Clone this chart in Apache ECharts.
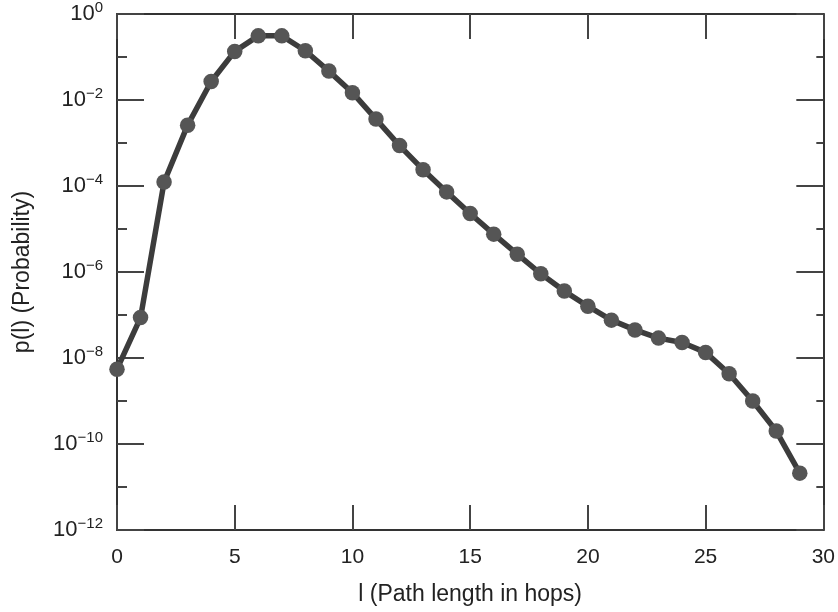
<!DOCTYPE html>
<html>
<head>
<meta charset="utf-8">
<script src="https://cdn.jsdelivr.net/npm/echarts@6/dist/echarts.min.js"></script>
<style>html,body{margin:0;padding:0;background:#fff;}#c{width:838px;height:612px;}</style>
</head>
<body>
<div id="c"></div>
<script>
const hops = [0,1,2,3,4,5,6,7,8,9,10,11,12,13,14,15,16,17,18,19,20,21,22,23,24,25,26,27,28,29];
const probability = [5.5e-9, 8.7e-8, 1.24e-4, 2.6e-3, 2.7e-2, 0.135, 0.31, 0.31, 0.14, 4.7e-2,
  1.48e-2, 3.6e-3, 8.7e-4, 2.4e-4, 7.3e-5, 2.3e-5, 7.6e-6, 2.6e-6, 9.1e-7, 3.6e-7,
  1.6e-7, 7.6e-8, 4.5e-8, 2.9e-8, 2.3e-8, 1.35e-8, 4.3e-9, 1.0e-9, 2.0e-10, 2.1e-11];
const xTicks = [0,5,10,15,20,25,30];
const yMin = 1e-12, yMax = 1;
const xName = 'l (Path length in hops)';
const yName = 'p(l) (Probability)';

const font = 'Liberation Sans';
const axisColor = '#333';
const chart = echarts.init(document.getElementById('c'));
const supLabel = v => {
  const e = Math.round(Math.log10(v));
  return '{b|10}{s|' + (e < 0 ? '\u2212' + (-e) : e) + '}';
};
const baseX = {
  type: 'value', min: xTicks[0], max: xTicks[xTicks.length-1], interval: xTicks[1]-xTicks[0],
  splitLine: {show:false},
  axisLine: {show:true, onZero:false, lineStyle:{color:axisColor, width:2}},
  axisTick: {show:true, inside:true, length:25, lineStyle:{color:'#444', width:2}}
};
const baseY = (pos, interval, len, labels, line) => ({
  type: 'log', logBase: 10, min: yMin, max: yMax, interval: interval, position: pos,
  splitLine: {show:false},
  axisLine: {show: line, onZero:false, lineStyle:{color:axisColor, width:2}},
  axisTick: {show:true, inside:true, length:len, lineStyle:{color:'#444', width:2}},
  axisLabel: labels ? {
    show:true, margin:14, formatter: supLabel,
    rich: {
      b: {fontSize:22, fontFamily:font, color:'#222', lineHeight:26},
      s: {fontSize:15, fontFamily:font, color:'#222', padding:[0,0,13,0]}
    }
  } : {show:false}
});
chart.setOption({
  animation: false,
  backgroundColor: '#fff',
  grid: {left:117, top:10, width:709, height:520},
  xAxis: [
    Object.assign({}, baseX, {
      position:'bottom',
      axisLabel:{fontSize:21, fontFamily:font, color:'#222', margin:17},
      name: xName, nameLocation:'middle', nameGap:53,
      nameTextStyle:{fontSize:23, fontFamily:font, color:'#222'}
    }),
    Object.assign({}, baseX, {position:'top', axisLabel:{show:false}})
  ],
  yAxis: [
    Object.assign(baseY('left', 2, 27, true, true), {
      name: yName, nameLocation:'middle', nameGap:83,
      nameTextStyle:{fontSize:23, fontFamily:font, color:'#222'}
    }),
    baseY('left', 1, 10, false, false),
    baseY('right', 2, 27, false, true),
    baseY('right', 1, 7, false, false)
  ],
  series: [{
    type:'line', xAxisIndex:0, yAxisIndex:0,
    data: hops.map((h,i)=>[h, probability[i]]),
    symbol:'circle', symbolSize:15.5, clip:false,
    lineStyle:{color:'#3c3c3c', width:5.5},
    itemStyle:{color:'#555'}
  }]
});
</script>
</body>
</html>
